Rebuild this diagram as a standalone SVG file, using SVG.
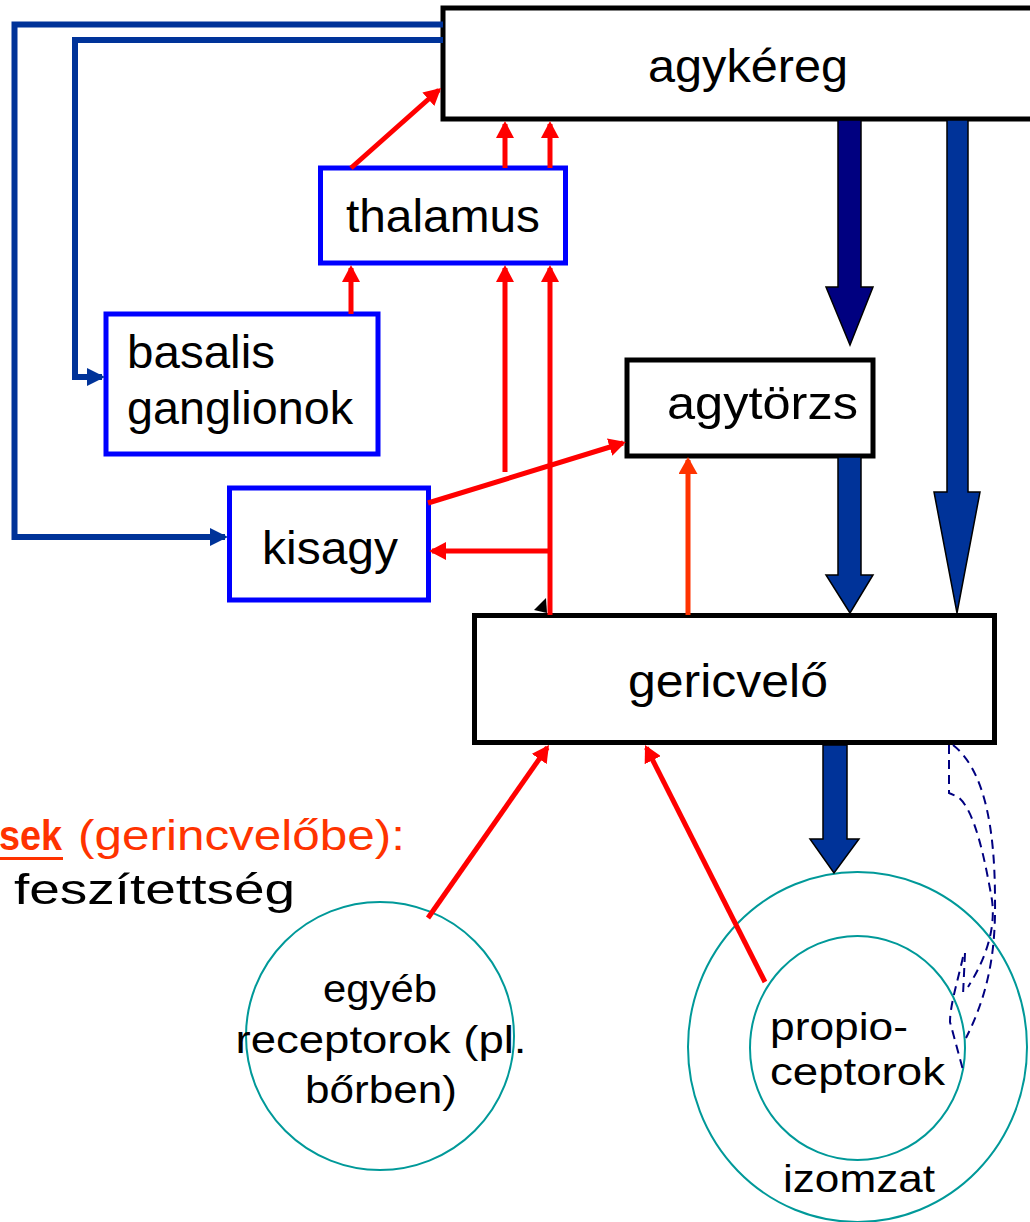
<svg xmlns="http://www.w3.org/2000/svg" width="1030" height="1222" viewBox="0 0 1030 1222">
<style>
.box{fill:#fff;stroke:#000;stroke-width:5}
.bbox{fill:#fff;stroke:#0000FF;stroke-width:5}
.lbl{font-family:"Liberation Sans","Noto Sans",sans-serif;fill:#000}
.big{font-size:46px}
.mid{font-size:38px}
.circ{fill:none;stroke:#009999;stroke-width:2}
.red{fill:none;stroke:#FF0000;stroke-width:5}
.org{fill:none;stroke:#FF3300;stroke-width:5}
.blu{fill:none;stroke:#003399;stroke-width:6}
.blk{stroke:#000;stroke-width:1.5}
.dash{fill:none;stroke:#000080;stroke-width:2;stroke-dasharray:9 6}
</style>
<defs>
<marker id="ar" markerUnits="userSpaceOnUse" markerWidth="17" markerHeight="18" refX="14" refY="9" orient="auto" viewBox="0 0 17 18"><path d="M0,0 L17,9 L0,18 z" fill="#FF0000"/></marker>
<marker id="ao" markerUnits="userSpaceOnUse" markerWidth="17" markerHeight="19" refX="14" refY="9.5" orient="auto" viewBox="0 0 17 19"><path d="M0,0 L17,9.5 L0,19 z" fill="#FF3300"/></marker>
<marker id="ab" markerUnits="userSpaceOnUse" markerWidth="18" markerHeight="18" refX="15" refY="9" orient="auto" viewBox="0 0 18 18"><path d="M0,0 L18,9 L0,18 z" fill="#003399"/></marker>
</defs>

<g id="agykereg">
<rect class="box" x="443" y="8" width="600" height="111"/>
<text class="lbl big" x="648" y="82" textLength="200" lengthAdjust="spacingAndGlyphs">agykéreg</text>
</g>
<g id="thalamus">
<rect class="bbox" x="320.5" y="168" width="245" height="95"/>
<text class="lbl big" x="346" y="232" textLength="194" lengthAdjust="spacingAndGlyphs">thalamus</text>
</g>
<g id="basalis">
<rect class="bbox" x="106" y="314" width="272" height="140"/>
<text class="lbl big" x="127" y="368" textLength="148" lengthAdjust="spacingAndGlyphs">basalis</text>
<text class="lbl big" x="127" y="424" textLength="226" lengthAdjust="spacingAndGlyphs">ganglionok</text>
</g>
<g id="agytorzs">
<rect class="box" x="627" y="360" width="246" height="96"/>
<text class="lbl big" x="667" y="419" textLength="191" lengthAdjust="spacingAndGlyphs">agytörzs</text>
</g>
<g id="kisagy">
<rect class="bbox" x="229.5" y="488" width="199" height="112"/>
<text class="lbl big" x="262" y="564" textLength="136" lengthAdjust="spacingAndGlyphs">kisagy</text>
</g>
<g id="gericvelo">
<rect class="box" x="474.5" y="615.5" width="520" height="127"/>
<text class="lbl big" x="628" y="697" textLength="200" lengthAdjust="spacingAndGlyphs">gericvelő</text>
</g>
<g id="egyeb">
<circle class="circ" cx="380" cy="1036" r="134"/>
<text class="lbl mid" x="380" y="1002" text-anchor="middle" textLength="114" lengthAdjust="spacingAndGlyphs">egyéb</text>
<text class="lbl mid" x="381" y="1053" text-anchor="middle" textLength="291" lengthAdjust="spacingAndGlyphs">receptorok (pl.</text>
<text class="lbl mid" x="381" y="1103" text-anchor="middle" textLength="152" lengthAdjust="spacingAndGlyphs">bőrben)</text>
</g>
<g id="izomzat">
<ellipse class="circ" cx="857.5" cy="1047" rx="169.5" ry="175"/>
<text class="lbl mid" x="783" y="1192" textLength="152" lengthAdjust="spacingAndGlyphs">izomzat</text>
</g>
<g id="propioceptorok">
<ellipse class="circ" cx="857.5" cy="1048" rx="107.5" ry="112"/>
<text class="lbl mid" x="770" y="1040" textLength="138" lengthAdjust="spacingAndGlyphs">propio-</text>
<text class="lbl mid" x="770" y="1085" textLength="175" lengthAdjust="spacingAndGlyphs">ceptorok</text>
</g>
<g id="bemenetek">
<text x="-1" y="850" font-family="Liberation Sans, sans-serif" font-size="42" font-weight="bold" fill="#FF3300" textLength="63" lengthAdjust="spacingAndGlyphs">sek</text>
<rect x="0" y="857" width="63" height="3" fill="#FF3300"/>
<text x="78" y="850" font-family="Liberation Sans, sans-serif" font-size="42" fill="#FF3300" textLength="327" lengthAdjust="spacingAndGlyphs">(gerincvelőbe):</text>
<text class="lbl" x="14" y="904" font-size="42" textLength="281" lengthAdjust="spacingAndGlyphs">feszítettség</text>
</g>

<g id="connectors">
<polyline class="blu" points="443,24.5 14.5,24.5 14.5,537 225,537" marker-end="url(#ab)"/>
<polyline class="blu" points="443,40 75,40 75,377 102,377" marker-end="url(#ab)"/>

<line class="red" x1="351" y1="168" x2="438.8" y2="90" marker-end="url(#ar)"/>
<line class="red" x1="505" y1="168" x2="505" y2="124" marker-end="url(#ar)"/>
<line class="red" x1="550" y1="168" x2="550" y2="124" marker-end="url(#ar)"/>
<line class="red" x1="351" y1="314" x2="351" y2="268" marker-end="url(#ar)"/>
<line class="red" x1="505" y1="472" x2="505" y2="268" marker-end="url(#ar)"/>
<line class="red" x1="550" y1="615" x2="550" y2="268" marker-end="url(#ar)"/>
<line class="red" x1="550" y1="551" x2="432" y2="551" marker-end="url(#ar)"/>
<line class="red" x1="428" y1="503" x2="623" y2="443" marker-end="url(#ar)"/>
<line class="org" x1="688" y1="615" x2="688" y2="460" marker-end="url(#ao)"/>
<line class="red" x1="428" y1="918" x2="547.3" y2="747.5" marker-end="url(#ar)"/>
<line class="red" x1="765" y1="982" x2="646.4" y2="747.7" marker-end="url(#ar)"/>
<polygon points="534,610 546,598 547,613" fill="#000"/>

<polygon class="blk" fill="#000080" points="838,120 861,120 861,287 873,287 850,345 826,287 838,287"/>
<polygon class="blk" fill="#003399" points="838,457 861,457 861,575 873,575 850,613 826,575 838,575"/>
<polygon class="blk" fill="#003399" points="947,120 968,120 968,492 980,492 957,613 934,492 947,492"/>
<polygon class="blk" fill="#003399" points="823,745 847,745 847,839 859,839 834,873 810,839 823,839"/>

<path class="dash" d="M953,745 C985,770 995,830 995,900 C996,960 985,1000 966,1038"/>
<path class="dash" d="M949,745 L949,793 L958,797 C975,810 985,860 992,900 C996,930 985,960 968,987"/>
<path class="dash" d="M965,953 L963,995"/>
<path class="dash" d="M963,957 C958,980 950,1005 950,1022 L963,1070"/>
</g>
</svg>
